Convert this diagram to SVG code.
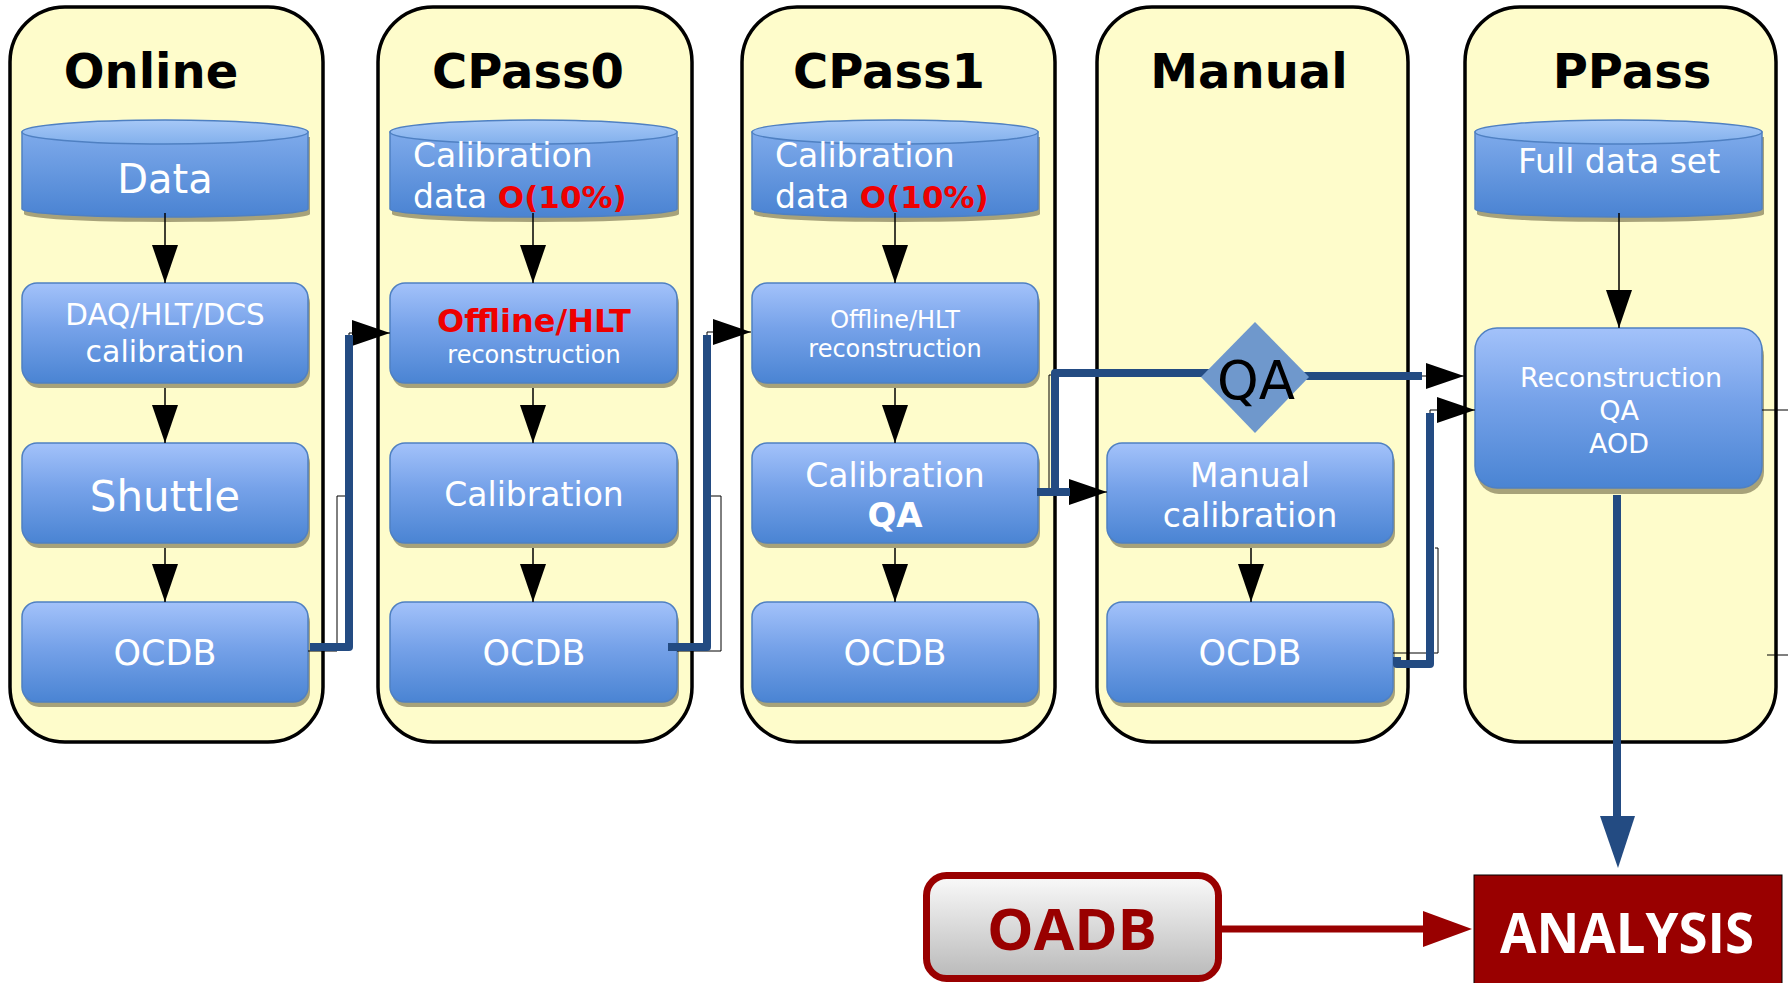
<svg xmlns="http://www.w3.org/2000/svg" width="1788" height="983" viewBox="0 0 1788 983">
  <style>
    .panel { fill: #fefccb; stroke: #000; stroke-width: 3.5; }
    .title { font-family: "DejaVu Sans", sans-serif; font-weight: bold; font-size: 48px; fill: #000; text-anchor: middle; }
    .box { fill: url(#boxGrad); stroke: #4f80c2; stroke-width: 1.5; }
    .shadow { fill: #a7a27a; }
    .cylBody { fill: url(#cylGrad); stroke: #4f80c2; stroke-width: 1.5; }
    .cylTop { fill: url(#cylTopGrad); stroke: #4f80c2; stroke-width: 1.5; }
    .lbl { font-family: "DejaVu Sans", sans-serif; fill: #fff; text-anchor: middle; }
    .lblL { font-family: "DejaVu Sans", sans-serif; fill: #fff; }
    .red { fill: #ee0000; font-weight: bold; }
    .flow { fill: none; stroke: #000; stroke-width: 1.5; marker-end: url(#ah); }
    .thin { fill: none; stroke: #000; stroke-width: 1; }
    .thinArrow { fill: none; stroke: #000; stroke-width: 1; marker-end: url(#ah); }
    .blue { fill: none; stroke: #234b82; stroke-width: 8; stroke-linejoin: round; }
  </style>
  <defs>
    <linearGradient id="boxGrad" x1="0" y1="0" x2="0" y2="1">
      <stop offset="0" stop-color="#a3c2fa"/>
      <stop offset="0.45" stop-color="#76a2e9"/>
      <stop offset="1" stop-color="#4a84d3"/>
    </linearGradient>
    <linearGradient id="cylGrad" x1="0" y1="0" x2="0" y2="1">
      <stop offset="0" stop-color="#7eaaeb"/>
      <stop offset="1" stop-color="#4a83d2"/>
    </linearGradient>
    <linearGradient id="cylTopGrad" x1="0" y1="0" x2="0" y2="1">
      <stop offset="0" stop-color="#a6c8f7"/>
      <stop offset="1" stop-color="#82b0ec"/>
    </linearGradient>
    <linearGradient id="greyGrad" x1="0" y1="0" x2="0" y2="1">
      <stop offset="0" stop-color="#fafafa"/>
      <stop offset="1" stop-color="#b9b9b9"/>
    </linearGradient>
    <marker id="ah" markerWidth="38" markerHeight="26" refX="38" refY="13" orient="auto" markerUnits="userSpaceOnUse">
      <path d="M0,0 L38,13 L0,26 Z" fill="#000"/>
    </marker>
  </defs>

  <!-- Online column -->
  <g id="online">
    <rect class="panel" x="10" y="7" width="313" height="735" rx="55"/>
    <text class="title" x="151" y="88">Online</text>
    <g id="online-data">
      <path class="shadow" d="M24,137 V214 A143,8 0 0 0 310,214 V137 Z"/>
      <path class="cylBody" d="M22,132 V209 A143,8 0 0 0 308,209 V132 Z"/>
      <ellipse class="cylTop" cx="165" cy="132" rx="143" ry="12"/>
      <text class="lbl" x="165" y="193" font-size="40">Data</text>
    </g>
    <g id="online-daq">
      <rect class="shadow" x="24" y="288" width="286" height="100" rx="15"/>
      <rect class="box" x="22" y="283" width="286" height="100" rx="15"/>
      <text class="lbl" x="165" y="325" font-size="29.5">DAQ/HLT/DCS</text>
      <text class="lbl" x="165" y="362" font-size="30">calibration</text>
    </g>
    <g id="online-shuttle">
      <rect class="shadow" x="24" y="448" width="286" height="100" rx="15"/>
      <rect class="box" x="22" y="443" width="286" height="100" rx="15"/>
      <text class="lbl" x="165" y="511" font-size="42">Shuttle</text>
    </g>
    <g id="online-ocdb">
      <rect class="shadow" x="24" y="607" width="286" height="100" rx="15"/>
      <rect class="box" x="22" y="602" width="286" height="100" rx="15"/>
      <text class="lbl" x="165" y="665" font-size="35">OCDB</text>
    </g>
  </g>

  <!-- CPass0 column -->
  <g id="cpass0">
    <rect class="panel" x="378" y="7" width="314" height="735" rx="55"/>
    <text class="title" x="528" y="88">CPass0</text>
    <g id="cpass0-data">
      <path class="shadow" d="M392,137 V214 A143.5,8 0 0 0 679,214 V137 Z"/>
      <path class="cylBody" d="M390,132 V209 A143.5,8 0 0 0 677,209 V132 Z"/>
      <ellipse class="cylTop" cx="533.5" cy="132" rx="143.5" ry="12"/>
      <text class="lblL" x="413" y="167" font-size="33">Calibration</text>
      <text class="lblL" x="413" y="208" font-size="33">data <tspan class="red" font-size="31">O(10%)</tspan></text>
    </g>
    <g id="cpass0-reco">
      <rect class="shadow" x="392" y="288" width="287" height="100" rx="15"/>
      <rect class="box" x="390" y="283" width="287" height="100" rx="15"/>
      <text class="lbl red" x="534" y="332" font-size="32">Offline/HLT</text>
      <text class="lbl" x="534" y="363" font-size="24">reconstruction</text>
    </g>
    <g id="cpass0-calib">
      <rect class="shadow" x="392" y="448" width="287" height="100" rx="15"/>
      <rect class="box" x="390" y="443" width="287" height="100" rx="15"/>
      <text class="lbl" x="534" y="506" font-size="33">Calibration</text>
    </g>
    <g id="cpass0-ocdb">
      <rect class="shadow" x="392" y="607" width="287" height="100" rx="15"/>
      <rect class="box" x="390" y="602" width="287" height="100" rx="15"/>
      <text class="lbl" x="534" y="665" font-size="35">OCDB</text>
    </g>
  </g>

  <!-- CPass1 column -->
  <g id="cpass1">
    <rect class="panel" x="742" y="7" width="313" height="735" rx="55"/>
    <text class="title" x="889" y="88">CPass1</text>
    <g id="cpass1-data">
      <path class="shadow" d="M754,137 V214 A143,8 0 0 0 1040,214 V137 Z"/>
      <path class="cylBody" d="M752,132 V209 A143,8 0 0 0 1038,209 V132 Z"/>
      <ellipse class="cylTop" cx="895" cy="132" rx="143" ry="12"/>
      <text class="lblL" x="775" y="167" font-size="33">Calibration</text>
      <text class="lblL" x="775" y="208" font-size="33">data <tspan class="red" font-size="31">O(10%)</tspan></text>
    </g>
    <g id="cpass1-reco">
      <rect class="shadow" x="754" y="288" width="286" height="100" rx="15"/>
      <rect class="box" x="752" y="283" width="286" height="100" rx="15"/>
      <text class="lbl" x="895" y="328" font-size="24">Offline/HLT</text>
      <text class="lbl" x="895" y="357" font-size="24">reconstruction</text>
    </g>
    <g id="cpass1-calibqa">
      <rect class="shadow" x="754" y="448" width="286" height="100" rx="15"/>
      <rect class="box" x="752" y="443" width="286" height="100" rx="15"/>
      <text class="lbl" x="895" y="487" font-size="33">Calibration</text>
      <text class="lbl" x="895" y="527" font-size="34" font-weight="bold">QA</text>
    </g>
    <g id="cpass1-ocdb">
      <rect class="shadow" x="754" y="607" width="286" height="100" rx="15"/>
      <rect class="box" x="752" y="602" width="286" height="100" rx="15"/>
      <text class="lbl" x="895" y="665" font-size="35">OCDB</text>
    </g>
  </g>

  <!-- Manual column -->
  <g id="manual">
    <rect class="panel" x="1097" y="7" width="311" height="735" rx="55"/>
    <text class="title" x="1249" y="88">Manual</text>
    <g id="manual-calib">
      <rect class="shadow" x="1109" y="448" width="286" height="100" rx="15"/>
      <rect class="box" x="1107" y="443" width="286" height="100" rx="15"/>
      <text class="lbl" x="1250" y="487" font-size="33">Manual</text>
      <text class="lbl" x="1250" y="527" font-size="33">calibration</text>
    </g>
    <g id="manual-ocdb">
      <rect class="shadow" x="1109" y="607" width="286" height="100" rx="15"/>
      <rect class="box" x="1107" y="602" width="286" height="100" rx="15"/>
      <text class="lbl" x="1250" y="665" font-size="35">OCDB</text>
    </g>
  </g>

  <!-- PPass column -->
  <g id="ppass">
    <rect class="panel" x="1465" y="7" width="311" height="735" rx="55"/>
    <text class="title" x="1632" y="88">PPass</text>
    <g id="ppass-data">
      <path class="shadow" d="M1477,137 V214 A143.5,8 0 0 0 1764,214 V137 Z"/>
      <path class="cylBody" d="M1475,132 V209 A143.5,8 0 0 0 1762,209 V132 Z"/>
      <ellipse class="cylTop" cx="1618.5" cy="132" rx="143.5" ry="12"/>
      <text class="lbl" x="1619" y="173" font-size="33">Full data set</text>
    </g>
    <g id="ppass-reco">
      <rect class="shadow" x="1477" y="334" width="287" height="160" rx="22"/>
      <rect class="box" x="1475" y="328" width="287" height="160" rx="22"/>
      <text class="lbl" x="1621" y="387" font-size="27">Reconstruction</text>
      <text class="lbl" x="1619" y="420" font-size="27">QA</text>
      <text class="lbl" x="1619" y="453" font-size="27">AOD</text>
    </g>
  </g>

  <!-- Connectors -->
  <g id="connectors">
    <!-- flow inside the columns -->
    <path class="flow" d="M165,213 V283"/>
    <path class="flow" d="M165,388 V443"/>
    <path class="flow" d="M165,548 V602"/>
    <path class="flow" d="M533,213 V283"/>
    <path class="flow" d="M533,388 V443"/>
    <path class="flow" d="M533,548 V602"/>
    <path class="flow" d="M895,213 V283"/>
    <path class="flow" d="M895,388 V443"/>
    <path class="flow" d="M895,548 V602"/>
    <path class="flow" d="M1251,548 V602"/>
    <path class="flow" d="M1619,213 V328"/>

    <!-- Online OCDB to CPass0 reconstruction -->
    <path class="thinArrow" d="M308,651 H337 V496 H349 V333 H390"/>
    <path class="blue" d="M310,647 H349 V335"/>

    <!-- CPass0 OCDB to CPass1 reconstruction -->
    <path class="thinArrow" d="M677,651 H721 V496 H707 V332 H751"/>
    <path class="blue" d="M668,647 H707 V335"/>

    <!-- CPass1 Calibration QA to manual calibration and to the QA check -->
    <path class="thin" d="M1049,492 V375 H1055"/>
    <path class="thinArrow" d="M1038,492 H1107"/>
    <path class="blue" d="M1037,492 H1070"/>
    <path class="blue" d="M1055,492 V373 H1210"/>
    <path class="thinArrow" d="M1303,376 H1464"/>
    <path class="blue" d="M1303,376 H1422"/>

    <!-- Manual OCDB to PPass reconstruction -->
    <path class="thin" d="M1393,653 H1438 V548 H1435"/>
    <path class="thinArrow" d="M1430,413 V410 H1475"/>
    <path class="blue" d="M1397,657 V664 H1430 V413"/>

    <!-- stubs leaving the PPass column -->
    <path class="thin" d="M1762,410 H1788"/>
    <path class="thin" d="M1767,655 H1788"/>

    <!-- PPass to analysis -->
    <path class="blue" d="M1617,495 V822"/>
    <path d="M1600,816 L1635,816 L1618,868 Z" fill="#234b82"/>

    <!-- OADB to analysis -->
    <path d="M1222,929 H1426" fill="none" stroke="#990000" stroke-width="7"/>
    <path d="M1423,911 L1472,929 L1423,947 Z" fill="#990000"/>
  </g>

  <!-- QA check diamond -->
  <g id="qa-check">
    <path d="M1255,322 L1309,377 L1255,433 L1201,377 Z" fill="#6f98cc"/>
    <text x="1256" y="399" font-family="DejaVu Sans, sans-serif" font-size="53" fill="#000" text-anchor="middle">QA</text>
  </g>

  <!-- OADB -->
  <g id="oadb">
    <rect x="926.5" y="875.5" width="292" height="103" rx="20" fill="url(#greyGrad)" stroke="#990000" stroke-width="7"/>
    <text x="1072" y="950" font-family="Open Sans, sans-serif" font-weight="bold" font-size="58" fill="#990000" text-anchor="middle" textLength="170" lengthAdjust="spacingAndGlyphs">OADB</text>
  </g>

  <!-- ANALYSIS -->
  <g id="analysis">
    <rect x="1474" y="875" width="308" height="115" fill="#990000" stroke="#000" stroke-width="1"/>
    <text x="1627" y="953" font-family="Open Sans, sans-serif" font-weight="bold" font-size="55" fill="#fff" text-anchor="middle" textLength="254" lengthAdjust="spacingAndGlyphs">ANALYSIS</text>
  </g>
</svg>
